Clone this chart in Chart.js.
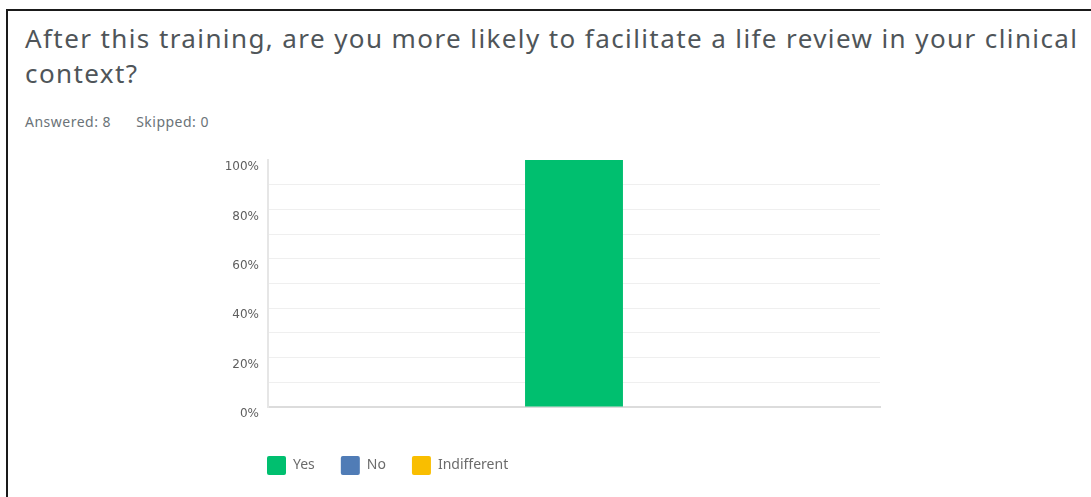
<!DOCTYPE html>
<html>
<head>
<meta charset="utf-8">
<script src="https://cdn.jsdelivr.net/npm/chart.js@4.4.1/dist/chart.umd.min.js"></script>
<style>
    html, body {
        margin: 0;
        padding: 0;
        width: 1091px;
        height: 497px;
        overflow: hidden;
        background: #fff;
    }
    #frame {
        position: absolute;
        left: 6px;
        top: 9px;
        width: 1200px;
        height: 600px;
        border-left: 2px solid #1a1a1a;
        border-top: 2px solid #1a1a1a;
    }
    #question {
        position: absolute;
        left: 25px;
        top: 21px;
        margin: 0;
        font-family: "Noto Sans", sans-serif;
        font-weight: 400;
        font-size: 26px;
        letter-spacing: 1.4px;
        line-height: 35px;
        color: #4f5559;
        white-space: nowrap;
    }
    #stats {
        position: absolute;
        left: 25px;
        top: 112px;
        font-family: "Noto Sans", sans-serif;
        font-size: 14px;
        letter-spacing: 0.5px;
        color: #6b7378;
    }
    #stats span {
        margin-right: 25px;
    }
    #chartBox {
        position: absolute;
        left: 212px;
        top: 140px;
        width: 690px;
        height: 345px;
    }
</style>
</head>
<body>
<div id="frame"></div>
<p id="question">After this training, are you more likely to facilitate a life review in your clinical<br>context?</p>
<div id="stats"><span>Answered: 8</span><span>Skipped: 0</span></div>
<div id="chartBox"><canvas id="barChartContainer"></canvas></div>

<script>
const categories = ["After this training, are you more likely to facilitate a life review in your clinical context?"];
const answerLabels = ["Yes", "No", "Indifferent"];
const yesValues = [100];
const noValues = [0];
const indifferentValues = [0];
const answerColors = ["#00bf6f", "#507cb6", "#f9be00"];
const yTicks = [0, 20, 40, 60, 80, 100];

// zero answers are left out of the bar spacing so the "Yes" bar sits in the middle
const hideZero = (values) => values.map(v => (v === 0 ? null : v));

const seriesValues = [yesValues, noValues, indifferentValues];

// legend starts under the y axis line instead of at the canvas edge
const legendShift = {
    id: "legendShift",
    afterLayout: (chart) => {
        const legend = chart.legend;
        const shift = chart.chartArea.left - 27 - legend.left;
        legend.left += shift;
        legend.right += shift;
    },
};

const barChartContainer = document.getElementById("barChartContainer").getContext("2d");

const barChartInstance = new Chart(barChartContainer, {
    type: "bar",
    data: {
        labels: categories,
        datasets: answerLabels.map((label, i) => ({
            label: label,
            data: hideZero(seriesValues[i]),
            backgroundColor: answerColors[i],
            borderWidth: 0,
            barPercentage: 1,
            categoryPercentage: 0.16,
        })),
    },
    plugins: [legendShift],
    options: {
        responsive: true,
        maintainAspectRatio: false,
        animation: false,
        skipNull: true,
        layout: {
            padding: { left: 10, right: 22, top: 20, bottom: 0 },
        },
        plugins: {
            tooltip: { enabled: false },
            legend: {
                position: "bottom",
                align: "start",
                labels: {
                    boxWidth: 19,
                    boxHeight: 19,
                    padding: 26,
                    useBorderRadius: true,
                    borderRadius: 2,
                    color: "#6b6b6b",
                    font: { family: "'Noto Sans', sans-serif", size: 14 },
                },
            },
        },
        scales: {
            x: {
                ticks: { display: false },
                grid: { display: false, drawTicks: false },
                border: { display: true, color: "#dcdcdc", width: 2 },
                afterFit: (scale) => { scale.height = 23; },
            },
            y: {
                min: 0,
                max: 100,
                ticks: {
                    stepSize: 10,
                    padding: 9,
                    labelOffset: 7,
                    color: "#5e5e5e",
                    font: { family: "'DejaVu Sans', sans-serif", size: 12 },
                    callback: (value) => (yTicks.includes(value) ? value + "%" : ""),
                },
                grid: {
                    drawTicks: false,
                    color: (ctx) => (ctx.tick && ctx.tick.value === 100 ? "rgba(0,0,0,0)" : "#efefef"),
                    lineWidth: 1,
                },
                border: { display: true, color: "#e6e6e6", width: 2 },
                afterFit: (scale) => { scale.width = 46; },
            },
        },
    },
});
</script>
</body>
</html>
